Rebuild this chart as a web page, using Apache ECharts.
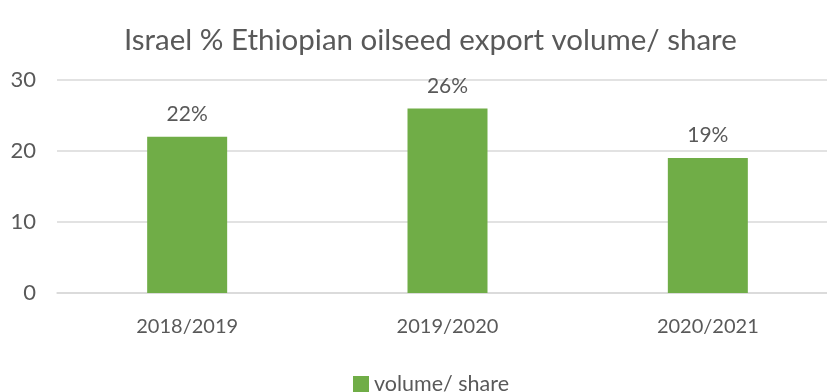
<!DOCTYPE html>
<html>
<head>
<meta charset="utf-8">
<script src="https://cdn.jsdelivr.net/npm/echarts@6/dist/echarts.min.js"></script>
<style>
  html, body { margin: 0; padding: 0; background: #fff; }
  #chart { width: 827px; height: 392px; }
</style>
</head>
<body>
<div id="chart"></div>
<script>
var categories = ['2018/2019', '2019/2020', '2020/2021']
var shareValues = [22, 26, 19]
var seriesName = 'volume/ share'
var yTicks = [0, 10, 20, 30]

var chart = echarts.init(document.getElementById('chart'))
var textColor = '#595959'
var fontFamily = 'Lato, "Open Sans", sans-serif'

chart.setOption({
  animation: false,
  title: {
    text: 'Israel % Ethiopian oilseed export volume/ share',
    left: 119,
    top: 20,
    textStyle: {
      color: textColor,
      fontFamily: fontFamily,
      fontWeight: 'normal',
      fontSize: 29.5
    }
  },
  legend: {
    top: 368,
    left: 348,
    itemWidth: 16,
    itemHeight: 16,
    itemGap: 4,
    icon: 'rect',
    textStyle: {
      color: textColor,
      fontFamily: fontFamily,
      fontSize: 21.5,
      padding: [0, 0, 0, 0]
    },
    data: [seriesName]
  },
  grid: {
    left: 57,
    width: 781,
    top: 80,
    height: 213,
    containLabel: false,
    outerBoundsMode: 'none'
  },
  xAxis: {
    type: 'category',
    data: categories,
    axisTick: { show: false },
    axisLine: { lineStyle: { color: '#d9d9d9', width: 1.5 } },
    axisLabel: {
      color: textColor,
      fontFamily: fontFamily,
      fontSize: 20,
      margin: 24
    }
  },
  yAxis: {
    type: 'value',
    min: yTicks[0],
    max: yTicks[yTicks.length - 1],
    interval: 10,
    axisLine: { show: false },
    axisTick: { show: false },
    splitLine: { lineStyle: { color: '#d9d9d9', width: 1.5 } },
    axisLabel: {
      color: textColor,
      fontFamily: fontFamily,
      fontSize: 22,
      margin: 21
    }
  },
  series: [{
    name: seriesName,
    type: 'bar',
    data: shareValues,
    barWidth: 80,
    itemStyle: { color: '#70ad47' },
    label: {
      show: true,
      position: 'top',
      distance: 12,
      formatter: '{c}%',
      color: textColor,
      fontFamily: fontFamily,
      fontSize: 21
    }
  }]
})
</script>
</body>
</html>
